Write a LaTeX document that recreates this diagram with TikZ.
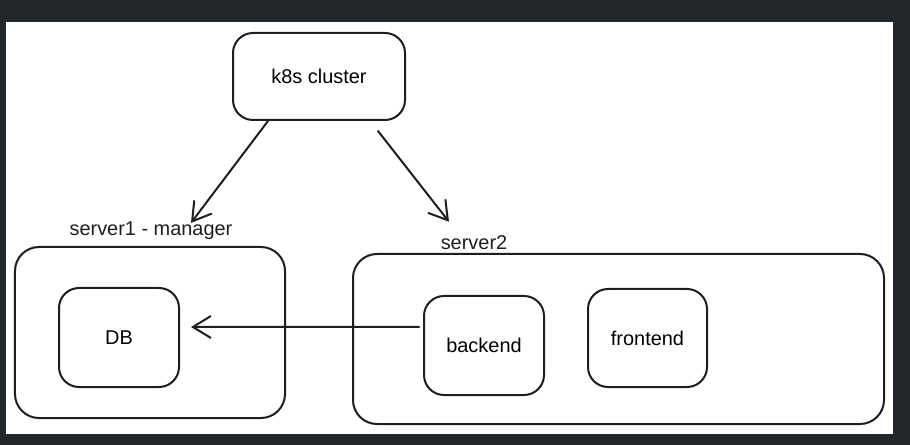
\documentclass[tikz,border=0pt]{standalone}
\usepackage{fontspec}
\setmainfont{Liberation Sans}
\usetikzlibrary{arrows.meta}
\definecolor{inkcol}{HTML}{1E1E1E}
\definecolor{framecol}{HTML}{23272B}
\tikzset{
  box/.style={draw=inkcol, line width=2bp, rounded corners=20bp, inner sep=0pt,
    font=\fontsize{20}{24}\selectfont},
  tag/.style={inner sep=0pt, text=inkcol, font=\fontsize{20}{24}\selectfont},
  link/.style={draw=inkcol, line width=2bp, line cap=round,
    -{Straight Barb[length=18bp,width=22bp,line width=2bp]}},
}
\begin{document}
\begin{tikzpicture}[x=1bp,y=-1bp]
%%
  % Frame
  \fill[framecol] (0,0) rectangle (910,445);
  \fill[white] (6,22) rectangle (893,434);
  % Node: cluster
  \node[box, minimum width=172bp, minimum height=87bp] (cluster) at (319,76.5) {k8s cluster};
  % Node: server1
  \node[box, rounded corners=24bp, minimum width=270bp, minimum height=171bp] (server1) at (150,332.5) {};
  \node[tag] (s1label) at (151,231) {server1 - manager};
  % Node: db
  \node[box, minimum width=120bp, minimum height=99bp] (db) at (119,337.5) {DB};
  % Node: server2
  \node[box, rounded corners=24bp, minimum width=531bp, minimum height=170bp] (server2) at (618.5,339) {};
  \node[tag] (s2label) at (474,243) {server2};
  % Node: backend
  \node[box, minimum width=120bp, minimum height=99bp] (backend) at (484,345.5) {backend};
  % Node: frontend
  \node[box, minimum width=119bp, minimum height=98bp] (frontend) at (647.5,338) {frontend};
%
  % Edge: cluster -> server1
  \draw[link] ([xshift=-51bp]cluster.south) -- ([xshift=40bp,yshift=-1bp]s1label.north);
  % Edge: cluster -> server2
  \draw[link] ([xshift=59bp,yshift=-10bp]cluster.south) -- ([xshift=-25bp,yshift=14bp]s2label.north);
  % Edge: backend -> db
  \draw[link] ([xshift=-4bp,yshift=18.5bp]backend.west) -- ([xshift=11bp,yshift=10.5bp]db.east);
%
\end{tikzpicture}
\end{document}
